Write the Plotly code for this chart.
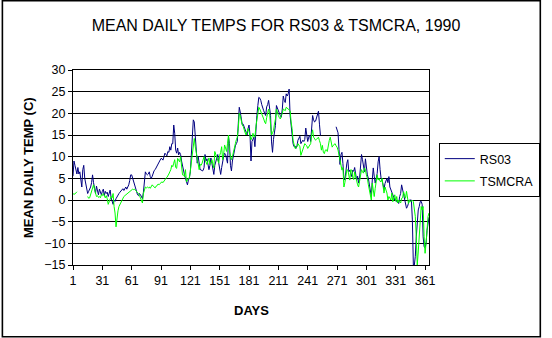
import plotly.graph_objects as go

N = None
days = list(range(1, 366))

rs03 = (
    [5.5, 9.0, 8.0, 6.5, 6.0, 7.5, 6.0, 6.5, 5.0, 3.0]
    + [7.0, 8.0, 5.0, 3.5, 3.0, 1.5, 2.0, 2.5, 3.0, 4.0]
    + [5.8, 4.0, 3.0, 1.5, 3.2, 2.0, 1.2, 2.5, 1.5, 1.2]
    + [2.0, 2.5, 1.0, 2.0, 1.5, 1.8, 0.8, 1.5, 2.3, 0.5]
    + [-0.5, -1.0, 0.0, -0.3, 0.3, 0.8, 1.0, 1.5, 1.8, 2.0]
    + [2.3, 2.6, 2.2, 2.5, 3.0, 2.5, 3.0, 3.5, 4.5, 5.8]
    + [5.8, 5.0, 4.2, 3.5, 2.5, 1.5, 1.2, 1.0, 1.5, 1.2]
    + [0.5, 0.3, 1.8, 4.5, 6.5, 6.0, 5.8, 6.0, 6.5, 5.4]
    + [5.0, 5.5, 6.2, 6.8, 7.0, 7.5, 8.0, 8.5, 8.8, 9.2]
    + [9.6, 9.5, 9.2, 10.0, 10.8, 10.5, 10.2, 11.2, 11.0, 12.3]
    + [11.5, 13.0, 13.0, 17.3, 15.4, 11.5, 10.8, 12.0, 10.4, 11.0]
    + [10.5, 9.0, 7.7, 6.5, 5.8, 5.0, 4.2, 3.5, 4.6, 5.2]
    + [6.5, 10.8, 15.8, 18.5, 18.0, 15.0, 10.0, 8.5, 10.0, 8.0]
    + [7.0, 7.0, 6.7, 6.8, 7.5, 10.5, 9.0, 9.5, 8.5, 7.0]
    + [8.0, 9.7, 8.5, 7.0, 5.9, 8.0, 9.0, 9.5, 10.5, 8.5]
    + [7.0, 5.9, 7.5, 9.3, 10.0, 10.8, 10.5, 9.5, 8.5, 14.6]
    + [13.0, 8.0, 6.7, 9.0, 10.5, 11.6, 12.5, 13.0, 13.5, 17.6]
    + [21.4, 20.3, 18.4, 17.5, 17.5, 16.9, 16.0, 15.4, 15.0, 16.5]
    + [17.3, 15.0, 9.0, 13.5, 14.0, 14.5, 12.3, 17.5, 19.5, 21.8]
    + [23.7, 23.5, 23.0, 22.0, 21.5, 20.6, 20.0, 19.5, 21.5, 22.0]
    + [23.0, 21.0, 19.5, 13.4, 11.0, 14.0, 16.0, 17.2, 21.8, 21.0]
    + [20.5, 20.0, 19.5, 19.1, 21.0, 24.0, 23.0, 22.5, 24.5, 24.0]
    + [24.5, 25.6, 19.5, 17.0, 15.0, 13.0, 12.3, 12.5, 11.9, 12.5]
    + [13.8, 14.2, 14.7, 13.0, 13.5, 13.8, 13.5, 14.0, 16.6, 15.0]
    + [13.5, 14.5, 15.0, 13.5, 17.0, 19.5, 18.5, 18.0, 18.2, 19.0]
    + [19.7, 20.5, 17.5, 14.9, N, N, N, N, N, N]
    + [N, N, N, N, N, N, N, N, N, 16.9]
    + [16.2, 15.5, 11.6, 8.2, 10.5, 11.0, 8.4, 5.0, 4.6, 7.5]
    + [8.5, 9.3, 6.5, 6.9, 6.0, 5.4, 6.9, 6.6, 7.5, 5.8]
    + [4.6, 5.5, 3.9, 5.0, 7.4, 10.5, 9.3, 7.2, 6.5, 9.5]
    + [7.0, 5.8, 5.0, 3.5, 2.3, 0.8, 4.6, 7.4, 5.5, 3.9]
    + [5.0, 6.1, 8.8, 10.0, 7.0, 5.0, 4.6, 3.0, 2.5, 3.8]
    + [4.6, 5.0, 4.0, 5.4, 3.0, 2.3, 2.0, 1.0, 0.4, 0.0]
    + [0.1, -0.4, -0.3, -0.8, 0.8, 1.5, 3.5, 2.3, 1.6, -0.4]
    + [-1.5, -1.9, -1.5, -0.4, 0.0, 0.0, 0.0, -4.6, -15.0, -15.0]
    + [-13.0, -8.5, -5.0, -2.3, -1.5, -0.4, -0.3, -1.0, -8.5, -10.8]
    + [-11.0, -10.0, -7.0, -4.6, -4.0]
)

tsmcra = (
    [1.5, 1.3, 1.4, 1.6, 1.9, N, N, N, N, N]
    + [N, N, N, N, N, 0.8, 0.4, 0.5, 1.2, 2.0]
    + [2.8, 3.5, 2.5, 1.5, 0.8, 1.0, 0.6, 0.8, 0.5, 1.2]
    + [1.0, 1.5, 0.8, 0.5, 1.0, 0.3, -1.0, -0.5, 0.4, 0.8]
    + [0.5, 1.5, -1.5, -3.0, -6.2, -3.4, -2.5, -1.5, -1.0, -0.5]
    + [0.0, 0.5, 0.8, 1.0, 1.2, 1.4, 1.7, 1.8, 2.0, 2.2]
    + [2.3, 2.5, 2.4, 2.5, 2.2, 2.0, 1.8, 1.5, 1.0, 0.4]
    + [-0.5, -0.7, 1.5, 2.5, 3.0, 2.8, 3.0, 2.8, 3.0, 2.7]
    + [3.2, 3.5, 3.2, 3.0, 2.8, 3.2, 3.3, 3.7, 3.5, 3.8]
    + [4.0, 4.2, 4.0, 4.4, 4.6, 5.0, 5.2, 5.8, 6.0, 6.5]
    + [7.0, 8.0, 7.7, 8.5, 9.3, 7.5, 7.3, 9.6, 9.0, 8.8]
    + [10.0, 7.3, 5.8, 5.8, 5.4, 7.0, 4.2, 4.6, 5.0, 5.0]
    + [7.0, 9.6, 11.5, 13.0, 14.2, 12.3, 11.0, 9.0, 7.5, 7.0]
    + [8.2, 8.0, 8.5, 9.5, 10.0, 9.3, 8.8, 8.2, 9.0, 9.7]
    + [8.2, 8.5, 9.3, 8.0, 7.4, 11.2, 10.5, 9.7, 9.0, 8.5]
    + [10.3, 11.0, 12.3, 9.3, 10.5, 12.7, 12.0, 11.2, 13.0, 15.0]
    + [11.2, 10.0, 9.3, 10.0, 11.2, 12.7, 13.0, 13.9, 14.5, 16.5]
    + [20.0, 19.5, 18.0, 17.3, 17.0, 16.0, 15.5, 15.0, 16.0, 16.5]
    + [15.8, 15.0, 13.9, 14.5, 15.4, 14.6, 14.5, 16.9, 18.7, 20.0]
    + [21.4, 21.0, 20.5, 19.9, 19.5, 18.7, 18.0, 17.6, 19.0, 20.3]
    + [21.0, 20.0, 18.0, 15.0, 15.5, 16.0, 17.5, 18.7, 21.0, 20.0]
    + [19.5, 19.0, 18.7, 19.5, 20.0, 21.0, 20.8, 20.6, 21.4, 21.2]
    + [21.0, 20.8, 20.6, 18.0, 16.5, 13.8, 12.5, 11.9, 12.0, 12.3]
    + [13.0, 12.5, 12.3, 10.3, 11.0, 11.5, 12.5, 13.0, 12.7, 12.5]
    + [11.9, 12.3, 12.7, 13.0, 15.0, 16.2, 14.5, 14.2, 13.8, 14.0]
    + [14.2, 14.5, 13.7, 13.0, 11.5, 12.6, 11.0, 10.7, 11.5, 11.6]
    + [11.2, 13.0, 13.7, 14.5, 12.8, 12.2, 12.6, 12.8, 13.0, 12.5]
    + [12.2, 11.5, 10.5, 8.8, 8.4, 6.9, 7.5, 3.0, 4.0, 5.3]
    + [7.0, 6.9, 5.4, 4.6, 7.0, 6.9, 5.3, 4.7, 6.5, 5.4]
    + [3.8, 3.5, 3.0, 4.7, 5.7, 7.0, 6.5, 6.2, 7.4, 6.9]
    + [5.8, 5.0, 3.5, 2.0, 0.8, 0.0, 3.9, 1.5, 0.8, 2.7]
    + [5.0, 5.8, 4.6, 5.0, 4.3, 4.2, 5.0, 3.5, 1.6, 3.0]
    + [2.3, 1.6, 0.0, 0.8, 0.4, 0.0, 1.6, -0.4, 0.5, 1.2]
    + [-0.3, 0.8, -0.7, 0.0, -0.4, -0.7, 0.4, 0.5, 1.9, 1.2]
    + [0.4, 2.0, 0.8, -0.8, 0.0, -0.4, -0.3, 0.0, -0.4, -2.3]
    + [-3.8, -8.5, -15.0, -12.0, -8.5, -4.6, -1.5, -2.3, -1.5, -8.5]
    + [-12.3, -10.0, -6.0, -3.8, -3.0]
)

x_ticks = [1, 31, 61, 91, 121, 151, 181, 211, 241, 271, 301, 331, 361]
y_ticks = [-15, -10, -5, 0, 5, 10, 15, 20, 25, 30]

FONT = "Arial, Liberation Sans, sans-serif"

fig = go.Figure()
fig.add_trace(go.Scatter(x=days, y=rs03, mode="lines", name="RS03",
                         line=dict(color="#000080", width=1), legendgroup="a"))
fig.add_trace(go.Scatter(x=days, y=tsmcra, mode="lines", name="TSMCRA",
                         line=dict(color="#00FF00", width=1), legendgroup="b"))

# plot area: x 73..437, y 70..265 (px)
L, R, T, B = 73, 437, 70, 265
W, H = 552, 338
pw, ph = R - L, B - T

def px(x):
    return (x - L) / pw

def py(y):
    return (B - y) / ph

fig.update_layout(
    width=W, height=H,
    margin=dict(l=L, r=W - R, t=T, b=H - B, pad=0),
    paper_bgcolor="white", plot_bgcolor="white",
    font=dict(family=FONT, size=12.5, color="black"),
    title=dict(text="MEAN DAILY TEMPS FOR RS03 &amp; TSMCRA, 1990",
               x=276 / W, xref="container", xanchor="center",
               y=1 - 25 / H, yref="container", yanchor="middle",
               font=dict(family=FONT, size=16, color="black")),
    showlegend=True,
    legend=dict(x=px(447), y=py(143), xanchor="left", yanchor="top",
                bordercolor="black", borderwidth=1, bgcolor="white",
                font=dict(family=FONT, size=12.5, color="black"),
                tracegroupgap=3, itemwidth=30),
    xaxis=dict(range=[1, 365], tickvals=x_ticks, ticktext=[str(v) for v in x_ticks],
               ticks="outside", ticklen=4, tickcolor="black", showgrid=False,
               showline=True, linecolor="black", linewidth=1, mirror=True,
               zeroline=False, tickfont=dict(family=FONT, size=12.5)),
    yaxis=dict(range=[-15, 30], tickvals=y_ticks, ticks="outside", ticklen=4,
               tickcolor="black", showgrid=True, gridcolor="black", gridwidth=1,
               showline=True, linecolor="black", linewidth=1, mirror=True,
               zeroline=False, tickfont=dict(family=FONT, size=12.5)),
    annotations=[
        dict(text="<b>DAYS</b>", x=px(255), y=py(310), xref="paper", yref="paper",
             showarrow=False, xanchor="center", yanchor="middle",
             font=dict(family=FONT, size=13, color="black")),
        dict(text="<b>MEAN DAILY TEMP (C)</b>", x=px(27), y=py(168), xref="paper",
             yref="paper", showarrow=False, xanchor="center", yanchor="middle",
             textangle=-90, font=dict(family=FONT, size=13, color="black")),
    ],
    shapes=[
        dict(type="rect", xref="paper", yref="paper",
             x0=px(0.8), x1=px(550.8), y0=py(336.8), y1=py(0.8),
             line=dict(color="black", width=1.6), layer="above"),
    ],
)

fig.write_html("out.html")
